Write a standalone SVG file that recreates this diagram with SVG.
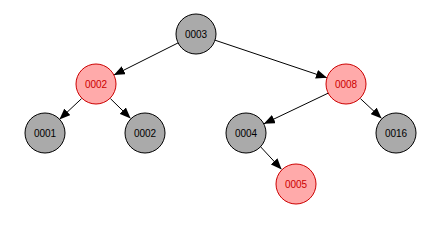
<svg xmlns="http://www.w3.org/2000/svg" width="439" height="229" viewBox="0 0 439 229">
<defs>
<marker id="arr" viewBox="0 0 11 9" refX="11" refY="4.5" markerWidth="11" markerHeight="9" markerUnits="userSpaceOnUse" orient="auto">
<path d="M0,0 L11,4.5 L0,9 Z" fill="#000"/>
</marker>
<style>
.edge{stroke:#000;stroke-width:1;fill:none;marker-end:url(#arr)}
.black circle{fill:#aaaaaa;stroke:#000;stroke-width:1}
.red circle{fill:#ffaaaa;stroke:#cc0000;stroke-width:1}
text{font-family:"Liberation Sans",Arial,sans-serif;font-size:10px;text-anchor:middle;dominant-baseline:central}
.black text{fill:#000}
.red text{fill:#cc0000}
</style>
</defs>
<rect width="439" height="229" fill="#fff"/>
<g id="connectors">
<line class="edge" x1="178.1" y1="42.9" x2="113.9" y2="75.1"/>
<line class="edge" x1="215.0" y1="40.2" x2="327.0" y2="77.8"/>
<line class="edge" x1="81.6" y1="98.6" x2="59.4" y2="119.4"/>
<line class="edge" x1="110.4" y1="98.6" x2="130.6" y2="118.4"/>
<line class="edge" x1="328.1" y1="93.2" x2="263.9" y2="123.8"/>
<line class="edge" x1="360.4" y1="98.6" x2="381.6" y2="118.4"/>
<line class="edge" x1="260.4" y1="146.6" x2="281.6" y2="169.4"/>
</g>
<g id="n0003" class="black"><circle cx="196" cy="34" r="20"/><text x="196" y="34">0003</text></g>
<g id="n0002a" class="red"><circle cx="96" cy="84" r="20"/><text x="96" y="84">0002</text></g>
<g id="n0008" class="red"><circle cx="346" cy="84" r="20"/><text x="346" y="84">0008</text></g>
<g id="n0001" class="black"><circle cx="45" cy="133" r="20"/><text x="45" y="133">0001</text></g>
<g id="n0002b" class="black"><circle cx="145" cy="133" r="20"/><text x="145" y="133">0002</text></g>
<g id="n0004" class="black"><circle cx="246" cy="133" r="20"/><text x="246" y="133">0004</text></g>
<g id="n0016" class="black"><circle cx="396" cy="133" r="20"/><text x="396" y="133">0016</text></g>
<g id="n0005" class="red"><circle cx="296" cy="184" r="20"/><text x="296" y="184">0005</text></g>
</svg>
